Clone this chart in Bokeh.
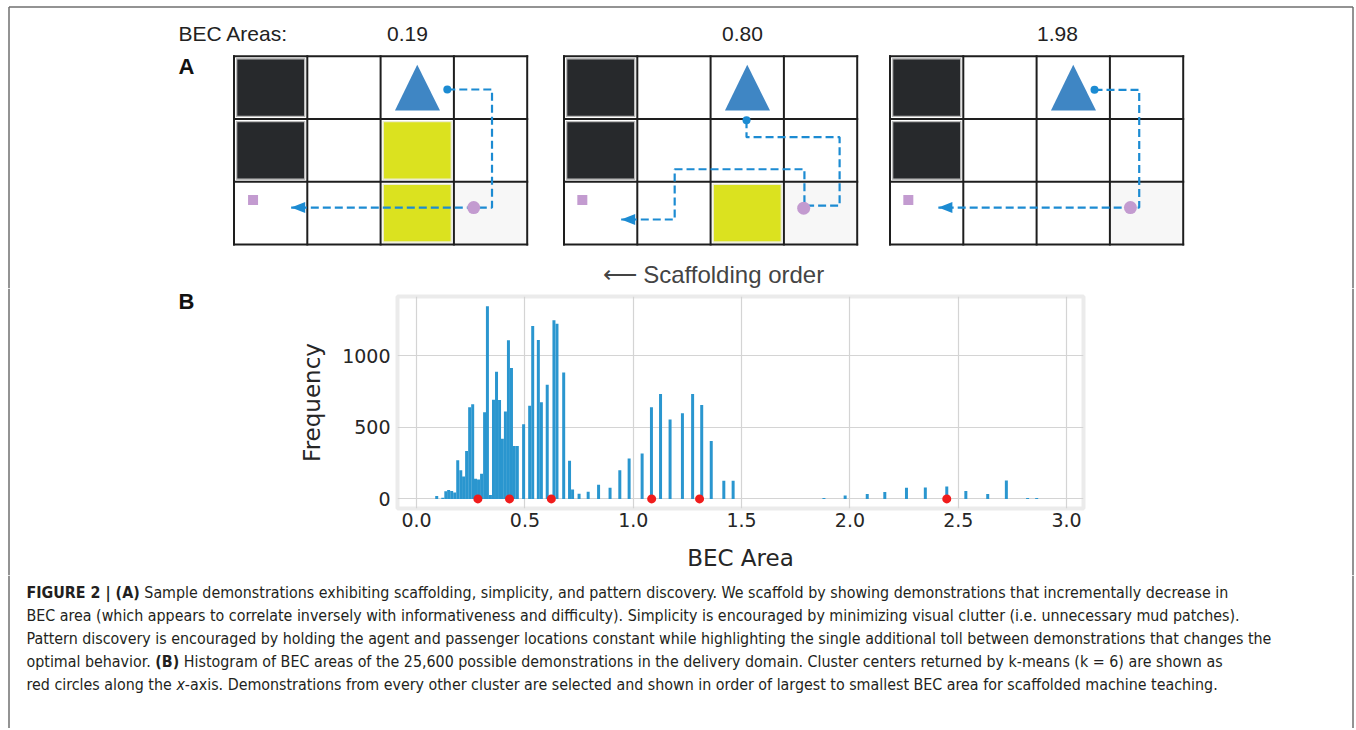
import os, glob, subprocess
from bokeh.plotting import figure
from bokeh.layouts import column, row
from bokeh.models import Range1d, FixedTicker, PrintfTickFormatter, ColumnDataSource
from bokeh.core.properties import value
from bokeh.embed import file_html
from bokeh.resources import INLINE

# ---------------- data ----------------
bec_area_labels = ["0.19", "0.80", "1.98"]
wall_cells = [[(0, 0), (0, 1)], [(0, 0), (0, 1)], [(0, 0), (0, 1)]]
mud_cells = [[(2, 1), (2, 2)], [(2, 2)], []]
goal_cells = [(3, 2), (3, 2), (3, 2)]
agent_cells = [(2, 0), (2, 0), (2, 0)]
passenger_pos = [(0.26, 2.29), (0.25, 2.29), (0.25, 2.29)]
destination_pos = [(3.27, 2.41), (3.27, 2.42), (3.28, 2.41)]
path_x = [[2.91, 3.52, 3.52, 0.78],
          [2.49, 2.49, 3.76, 3.76, 3.28, 3.28, 1.51, 1.51, 0.78],
          [2.79, 3.40, 3.40, 0.66]]
path_y = [[0.53, 0.53, 2.41, 2.41],
          [1.02, 1.29, 1.29, 2.38, 2.38, 1.80, 1.80, 2.60, 2.60],
          [0.535, 0.535, 2.41, 2.41]]

bin_centers = [0.093, 0.121, 0.135, 0.148, 0.162, 0.176, 0.190, 0.204, 0.217, 0.231,
               0.245, 0.259, 0.272, 0.286, 0.300, 0.314, 0.327, 0.341, 0.355, 0.369,
               0.383, 0.396, 0.410, 0.424, 0.438, 0.451, 0.465, 0.494, 0.522, 0.536,
               0.562, 0.576, 0.603, 0.634, 0.648, 0.679, 0.706, 0.720, 0.750, 0.792,
               0.840, 0.893, 0.938, 0.981, 1.041, 1.084, 1.126, 1.170, 1.227, 1.274,
               1.316, 1.360, 1.418, 1.461, 1.880, 1.978, 2.080, 2.161, 2.261, 2.348,
               2.447, 2.535, 2.636, 2.722, 2.820, 2.862]
bin_counts = [20, 8, 54, 62, 55, 44, 270, 200, 156, 334,
              640, 660, 140, 135, 175, 605, 1345, 28, 692, 888,
              690, 420, 610, 1108, 914, 370, 370, 522, 650, 1207,
              1110, 674, 797, 1248, 1222, 882, 266, 65, 36, 50,
              98, 78, 200, 282, 317, 639, 733, 555, 598, 733,
              656, 404, 127, 127, 7, 23, 35, 49, 78, 80,
              87, 56, 35, 129, 7, 7]
cluster_centers = [0.283, 0.429, 0.622, 1.085, 1.306, 2.447]
x_ticks = [0.0, 0.5, 1.0, 1.5, 2.0, 2.5, 3.0]
y_ticks = [0, 500, 1000]

caption_lines = [
    [("FIGURE 2 | (A)", "bold"), ("Sample demonstrations exhibiting scaffolding, simplicity, and pattern discovery. We scaffold by showing demonstrations that incrementally decrease in", "normal")],
    [("BEC area (which appears to correlate inversely with informativeness and difficulty). Simplicity is encouraged by minimizing visual clutter (i.e. unnecessary mud patches).", "normal")],
    [("Pattern discovery is encouraged by holding the agent and passenger locations constant while highlighting the single additional toll between demonstrations that changes the", "normal")],
    [("optimal behavior.", "normal"), ("(B)", "bold"), ("Histogram of BEC areas of the 25,600 possible demonstrations in the delivery domain. Cluster centers returned by k-means (k = 6) are shown as", "normal")],
    [("red circles along the", "normal"), ("x", "italic"), ("-axis. Demonstrations from every other cluster are selected and shown in order of largest to smallest BEC area for scaffolded machine teaching.", "normal")],
]
caption_glue = [[True], [], [], [True, True], [True, False]]   # space before following segment
caption_targets = [1072, 1302, 1302, 1071, 1302]

# ---------------- fonts ----------------
def _font_files():
    files = []
    for d in ["/usr/share/fonts", "/usr/local/share/fonts",
              os.path.expanduser("~/.fonts"), os.path.expanduser("~/.local/share/fonts")]:
        files += glob.glob(os.path.join(d, "**", "*.ttf"), recursive=True)
        files += glob.glob(os.path.join(d, "**", "*.otf"), recursive=True)
    try:
        out = subprocess.run(["fc-list", "--format", "%{file}\n"], capture_output=True,
                             text=True, timeout=10).stdout
        files += [l.strip() for l in out.splitlines() if l.strip()]
    except Exception:
        pass
    return files

FILES = _font_files()

def _find(name):
    for f in FILES:
        if os.path.basename(f).lower() == name.lower():
            return f
    return None

CANDS = [("Liberation Sans Narrow", "LiberationSansNarrow-Regular.ttf", "LiberationSansNarrow-Bold.ttf", "LiberationSansNarrow-Italic.ttf"),
         ("DejaVu Sans Condensed", "DejaVuSansCondensed.ttf", "DejaVuSansCondensed-Bold.ttf", "DejaVuSansCondensed-Oblique.ttf"),
         ("Liberation Sans", "LiberationSans-Regular.ttf", "LiberationSans-Bold.ttf", "LiberationSans-Italic.ttf")]
cap_font, cap_files = "Liberation Sans", {"normal": None, "bold": None, "italic": None}
for fam, r, b, i in CANDS:
    rp = _find(r)
    if rp:
        cap_font = fam
        cap_files = {"normal": rp, "bold": _find(b) or rp, "italic": _find(i) or rp}
        break

_cache = {}
def text_w(text, style, size):
    path = cap_files.get(style)
    if path:
        try:
            from PIL import ImageFont
            if path not in _cache:
                _cache[path] = ImageFont.truetype(path, 100)
            return _cache[path].getlength(text) * size / 100.0
        except Exception:
            pass
    return len(text) * 0.45 * size

def line_w(li, size):
    segs = caption_lines[li]
    w = 0.0
    for k, (t, st) in enumerate(segs):
        w += text_w(t, st, size)
        if k < len(segs) - 1 and caption_glue[li][k]:
            w += text_w(" ", "normal", size)
    return w

w1 = [line_w(i, 1.0) for i in range(5)]
cap_size = sum(t * w for t, w in zip(caption_targets, w1)) / sum(w * w for w in w1)
cap_size = max(15.0, min(19.0, cap_size))

# ---------------- layout constants ----------------
W = 1356
H_A, H_ROW, H_C = 288, 287, 153
W_L, W_R = 288, 263
W_H = W - W_L - W_R
FRAME = "#6f6f6f"
TXT = "#222222"
XL, XR, YT = 8.5, 1352.5, 6.5

def no_align(p):
    if "frame_align" in p.properties():
        p.frame_align = False
    return p

def canvas(w, h):
    p = figure(width=w, height=h, x_range=Range1d(0, w), y_range=Range1d(h, 0),
               output_backend="svg", toolbar_location=None,
               x_axis_location=None, y_axis_location=None,
               min_border=0, min_border_left=0, min_border_right=0,
               min_border_top=0, min_border_bottom=0)
    p.outline_line_color = None
    p.background_fill_color = "white"
    p.border_fill_color = "white"
    p.grid.visible = False
    return no_align(p)

# text y values below are the visual centre of the capitals
# ---------------- panel A ----------------
pA = canvas(W, H_A)
pA.multi_line(xs=[[XL, XL], [XL, XR], [XR, XR]],
              ys=[[H_A, YT], [YT, YT], [YT, H_A]], line_color=FRAME, line_width=1.5)

GX0 = [233.5, 563.5, 889.5]
GY0 = 55.7
CW, CH = 73.3, 62.8
def gx(g, u):
    return GX0[g] + u * CW
def gy(v):
    return GY0 + v * CH

# goal (light) cells
ql, qr, qt, qb = [], [], [], []
for g, (c, r) in enumerate(goal_cells):
    ql.append(gx(g, c)); qr.append(gx(g, c + 1)); qt.append(gy(r)); qb.append(gy(r + 1))
pA.quad(left=ql, right=qr, top=qt, bottom=qb, fill_color="#f7f7f7", line_color=None)

INS = 2.6
def inset_quads(cells_per_grid):
    L, R, T, B = [], [], [], []
    for g, cells in enumerate(cells_per_grid):
        for (c, r) in cells:
            L.append(gx(g, c) + INS); R.append(gx(g, c + 1) - INS)
            T.append(gy(r) + INS); B.append(gy(r + 1) - INS)
    return L, R, T, B

L, R, T, B = inset_quads(wall_cells)
pA.quad(left=L, right=R, top=T, bottom=B, fill_color="#27292c", line_color="#b9b9b9", line_width=1.4)
L, R, T, B = inset_quads(mud_cells)
pA.quad(left=L, right=R, top=T, bottom=B, fill_color="#dbe21f", line_color="#ececd0", line_width=1.4)

# grid lines
gxs, gys = [], []
for g in range(3):
    for k in range(5):
        gxs.append([gx(g, k), gx(g, k)]); gys.append([gy(0) - 1, gy(3) + 1])
    for k in range(4):
        gxs.append([gx(g, 0) - 1, gx(g, 4) + 1]); gys.append([gy(k), gy(k)])
pA.multi_line(xs=gxs, ys=gys, line_color="#1e1e1e", line_width=2)

# agent triangles
txs, tys = [], []
for g, (c, r) in enumerate(agent_cells):
    txs.append([gx(g, c + 0.5), gx(g, c + 0.196), gx(g, c + 0.81)])
    tys.append([gy(r + 0.137), gy(r + 0.865), gy(r + 0.865)])
pA.patches(xs=txs, ys=tys, fill_color="#3f86c4", line_color=None)

# passenger squares
pA.scatter(x=[gx(g, p[0]) for g, p in enumerate(passenger_pos)],
           y=[gy(p[1]) for p in passenger_pos], marker="square", size=10,
           fill_color="#c39bd0", line_color=None)

# paths
PATH = "#1c8bd2"
pxs = [[gx(g, u) for u in path_x[g]] for g in range(3)]
pys = [[gy(v) for v in path_y[g]] for g in range(3)]
pA.multi_line(xs=pxs, ys=pys, line_color=PATH, line_width=2.2, line_dash="8 4")

# destination circles
pA.scatter(x=[gx(g, p[0]) for g, p in enumerate(destination_pos)],
           y=[gy(p[1]) for p in destination_pos], marker="circle", size=13,
           fill_color="#c39bd0", line_color=None)

# start dots
pA.scatter(x=[xs[0] for xs in pxs], y=[ys[0] for ys in pys], marker="circle", size=8,
           fill_color=PATH, line_color=None)

# arrowheads
axs, ays = [], []
for xs, ys in zip(pxs, pys):
    tx, ty = xs[-1], ys[-1]
    dx, dy = xs[-1] - xs[-2], ys[-1] - ys[-2]
    n = (dx * dx + dy * dy) ** 0.5
    ux, uy = dx / n, dy / n
    bx, by = tx - 14 * ux, ty - 14 * uy
    axs.append([tx, bx - 5.5 * uy, bx + 5.5 * uy])
    ays.append([ty, by + 5.5 * ux, by - 5.5 * ux])
pA.patches(xs=axs, ys=ays, fill_color=PATH, line_color=None)

# texts of panel A
pA.text(x=[178], y=[32.5], text=["BEC Areas:"], text_font=value("Liberation Sans"),
        text_font_size="21px", text_color=TXT, text_baseline="alphabetic", text_align="left")
pA.text(x=[407, 742, 1057], y=[33.5, 33.5, 33.5], text=bec_area_labels, text_font=value("Liberation Sans"),
        text_font_size="21px", text_color=TXT, text_baseline="alphabetic", text_align="center")
pA.text(x=[178], y=[66], text=["A"], text_font=value("Liberation Sans"), text_font_style="bold",
        text_font_size="22px", text_color="#111111", text_baseline="alphabetic", text_align="left")
pA.text(x=[602], y=[274], text=["\u27f5 Scaffolding order"], text_font=value("Liberation Sans"),
        text_font_size="24px", text_color="#444444", text_baseline="alphabetic", text_align="left")

# ---------------- panel B row ----------------
pL = canvas(W_L, H_ROW)
pL.line(x=[XL, XL], y=[0, H_ROW], line_color=FRAME, line_width=1.5)
pL.text(x=[178], y=[12.5], text=["B"], text_font=value("Liberation Sans"), text_font_style="bold",
        text_font_size="22px", text_color="#111111", text_baseline="alphabetic", text_align="left")

pR = canvas(W_R, H_ROW)
pR.line(x=[XR - (W_L + W_H)] * 2, y=[0, H_ROW], line_color=FRAME, line_width=1.5)

pH = figure(width=W_H, height=H_ROW, x_range=Range1d(-0.088, 3.078), y_range=Range1d(-67, 1413),
            output_backend="svg", toolbar_location=None,
            min_border_left=109, min_border_right=10, min_border_top=8, min_border_bottom=67,
            x_axis_label="BEC Area", y_axis_label="Frequency")
no_align(pH)
pH.background_fill_color = "white"
pH.border_fill_color = "white"
pH.outline_line_color = "#ebebeb"
pH.outline_line_width = 4

src = ColumnDataSource(dict(x=bin_centers, top=bin_counts))
pH.vbar(x="x", top="top", bottom=0, width=0.0138, source=src, fill_color="#2a96cf", line_color=None)
pH.scatter(x=cluster_centers, y=[0] * len(cluster_centers), marker="circle", size=9,
           fill_color="#f01c1c", line_color=None)

xt = FixedTicker(ticks=x_ticks)
yt = FixedTicker(ticks=y_ticks)
pH.xaxis.ticker = xt
pH.yaxis.ticker = yt
pH.xgrid.ticker = xt
pH.ygrid.ticker = yt
pH.xaxis.formatter = PrintfTickFormatter(format="%.1f")
pH.grid.grid_line_color = "#d4d4d4"
pH.grid.grid_line_width = 1.2
for ax in (pH.xaxis[0], pH.yaxis[0]):
    ax.axis_line_color = None
    ax.major_tick_line_color = None
    ax.minor_tick_line_color = None
    ax.major_tick_out = 0
    ax.major_tick_in = 0
    ax.major_label_text_font = "DejaVu Sans"
    ax.major_label_text_font_size = "19px"
    ax.major_label_text_color = "#262626"
    ax.axis_label_text_font = "DejaVu Sans"
    ax.axis_label_text_font_size = "23px"
    ax.axis_label_text_font_style = "normal"
    ax.axis_label_text_color = "#262626"
pH.xaxis.major_label_standoff = 4
pH.xaxis.axis_label_standoff = 15
pH.yaxis.major_label_standoff = 7
pH.yaxis.axis_label_standoff = 14

# ---------------- caption ----------------
pC = canvas(W, H_C)
pC.multi_line(xs=[[XL, XL], [XR, XR]], ys=[[0, H_C], [0, H_C]],
              line_color=FRAME, line_width=1.5)
segs = {"normal": ([], [], []), "bold": ([], [], []), "italic": ([], [], [])}
CAP_X0 = 26
CAP_Y0, CAP_DY = 16.5, 23
for li, line in enumerate(caption_lines):
    x = CAP_X0
    for k, (t, st) in enumerate(line):
        segs[st][0].append(x); segs[st][1].append(CAP_Y0 + li * CAP_DY); segs[st][2].append(t)
        x += text_w(t, st, cap_size)
        if k < len(line) - 1 and caption_glue[li][k]:
            x += text_w(" ", "normal", cap_size)
for st, (xs, ys, ts) in segs.items():
    if not ts:
        continue
    pC.text(x=xs, y=ys, text=ts, text_font=value(cap_font), text_font_size=f"{cap_size:.2f}px",
            text_font_style=st, text_color="#231f20", text_baseline="alphabetic", text_align="left")

layout = column(pA, row(pL, pH, pR), pC)
open("out.html", "w").write(file_html(layout, INLINE))
